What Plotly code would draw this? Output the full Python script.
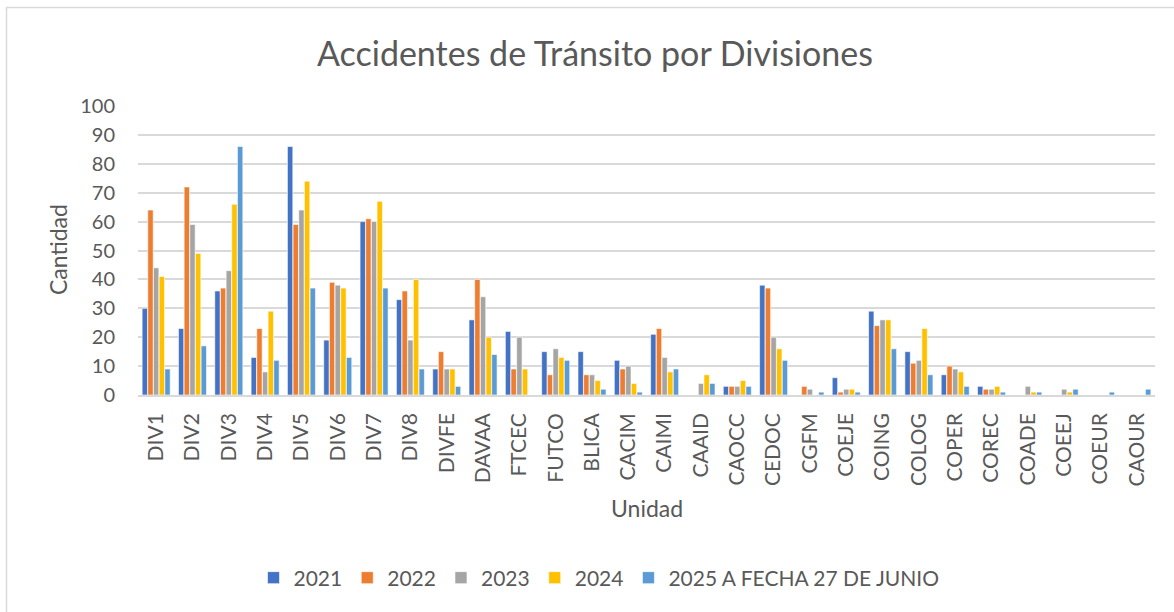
import plotly.graph_objects as go

categories = ["DIV1", "DIV2", "DIV3", "DIV4", "DIV5", "DIV6", "DIV7", "DIV8", "DIVFE", "DAVAA",
              "FTCEC", "FUTCO", "BLICA", "CACIM", "CAIMI", "CAAID", "CAOCC", "CEDOC", "CGFM", "COEJE",
              "COING", "COLOG", "COPER", "COREC", "COADE", "COEEJ", "COEUR", "CAOUR"]

v2021 = [30, 23, 36, 13, 86, 19, 60, 33, 9, 26, 22, 15, 15, 12, 21, 0, 3, 38, 0, 6, 29, 15, 7, 3, 0, 0, 0, 0]
v2022 = [64, 72, 37, 23, 59, 39, 61, 36, 15, 40, 9, 7, 7, 9, 23, 0, 3, 37, 3, 1, 24, 11, 10, 2, 0, 0, 0, 0]
v2023 = [44, 59, 43, 8, 64, 38, 60, 19, 9, 34, 20, 16, 7, 10, 13, 4, 3, 20, 2, 2, 26, 12, 9, 2, 3, 2, 0, 0]
v2024 = [41, 49, 66, 29, 74, 37, 67, 40, 9, 20, 9, 13, 5, 4, 8, 7, 5, 16, 0, 2, 26, 23, 8, 3, 1, 1, 0, 0]
v2025 = [9, 17, 86, 12, 37, 13, 37, 9, 3, 14, 0, 12, 2, 1, 9, 4, 3, 12, 1, 1, 16, 7, 3, 1, 1, 2, 1, 2]

series_names = ["2021", "2022", "2023", "2024", "2025 A FECHA 27 DE JUNIO"]
series_values = [v2021, v2022, v2023, v2024, v2025]
colors = ["#4472C4", "#ED7D31", "#A5A5A5", "#FFC000", "#5B9BD5"]

W, H = 1174, 612
L, R, T, B = 138, 1155, 106, 395
pw, ph = R - L, B - T

def px(x):
    return (x - L) / pw

def py(y):
    return (B - y) / ph

fig = go.Figure()
for name, vals, c in zip(series_names, series_values, colors):
    fig.add_trace(go.Bar(x=categories, y=vals, name=name, marker_color=c,
                         marker_line=dict(color="white", width=0.6)))

txt = "#595959"
fig.update_layout(
    width=W, height=H,
    margin=dict(l=L, r=W - R, t=T, b=H - B, pad=0),
    plot_bgcolor="white", paper_bgcolor="white",
    font=dict(family="Lato, Carlito, sans-serif", color=txt, size=18),
    barmode="group", bargap=0.22, bargroupgap=0.05,
    showlegend=True,
    legend=dict(orientation="h", x=px(599), xanchor="center", y=py(578), yanchor="middle",
                font=dict(size=21, color=txt), traceorder="normal", itemwidth=30),
    xaxis=dict(tickangle=-90, tickfont=dict(size=21, color=txt), showgrid=False,
               showline=True, linecolor="#D9D9D9", linewidth=1.5, ticks="", ticklabelstandoff=8),
    yaxis=dict(range=[0, 100], dtick=10, tickfont=dict(size=20, color=txt), gridcolor="#D9D9D9",
               gridwidth=1.5, zeroline=False, showline=False, ticks="", ticklabelstandoff=22),
    annotations=[
        dict(text="Accidentes de Tránsito por Divisiones", x=px(595), y=py(52), xref="paper", yref="paper",
             showarrow=False, font=dict(size=34, color=txt), xanchor="center", yanchor="middle"),
        dict(text="Cantidad", x=px(58), y=py(250), xref="paper", yref="paper", textangle=-90,
             showarrow=False, font=dict(size=23, color=txt), xanchor="center", yanchor="middle"),
        dict(text="Unidad", x=px(647), y=py(508), xref="paper", yref="paper",
             showarrow=False, font=dict(size=23, color=txt), xanchor="center", yanchor="middle"),
    ],
    shapes=[
        dict(type="line", xref="paper", yref="paper", x0=px(6), x1=px(1180), y0=py(7.5), y1=py(7.5),
             line=dict(color="#D9D9D9", width=1.5)),
        dict(type="line", xref="paper", yref="paper", x0=px(6.5), x1=px(6.5), y0=py(7), y1=py(620),
             line=dict(color="#D9D9D9", width=1.5)),
    ],
)

fig.write_html("out.html", config={"displayModeBar": False},
               post_script="document.body.style.margin='0';document.body.style.overflow='hidden';")
